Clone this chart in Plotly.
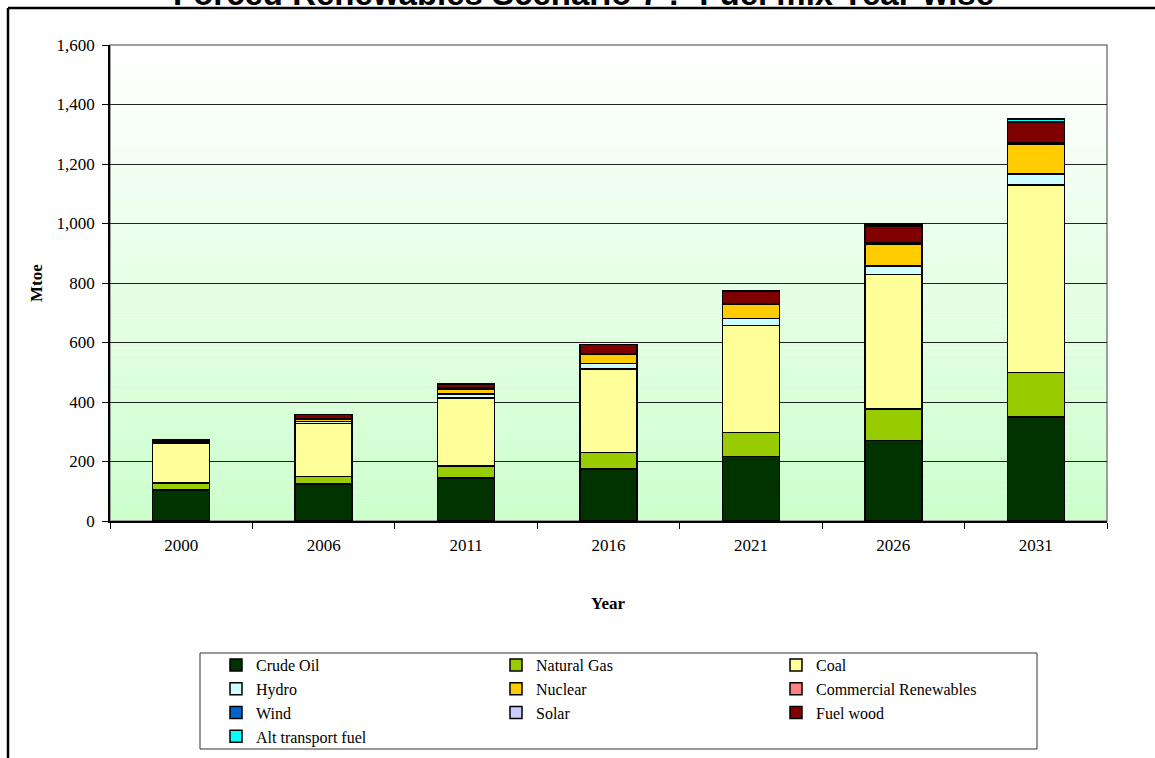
import plotly.graph_objects as go

years = ["2000", "2006", "2011", "2016", "2021", "2026", "2031"]
crude_oil = [105, 124, 145, 175, 216, 270, 350]
natural_gas = [23, 25, 40, 56, 81, 107, 150]
coal = [132, 179, 228, 280, 361, 451, 630]
hydro = [5, 6, 14, 18, 23, 30, 36]
nuclear = [2, 8, 17, 31, 46, 71, 99]
commercial_renewables = [0.5, 1, 1.5, 2, 2, 3, 4]
wind = [0.2, 0.3, 0.5, 1, 1, 1.5, 2]
solar = [0.1, 0.2, 0.3, 0.5, 1, 1, 2]
fuel_wood = [4, 14, 15, 29, 41, 57, 68]
alt_transport_fuel = [0, 0, 0, 0, 3, 7, 10]

y_ticks = [0, 200, 400, 600, 800, 1000, 1200, 1400, 1600]
y_tick_labels = ["0", "200", "400", "600", "800", "1,000", "1,200", "1,400", "1,600"]

series = [
    ("Crude Oil", crude_oil, "#003300"),
    ("Natural Gas", natural_gas, "#99CC00"),
    ("Coal", coal, "#FFFF99"),
    ("Hydro", hydro, "#CCFFFF"),
    ("Nuclear", nuclear, "#FFCC00"),
    ("Commercial Renewables", commercial_renewables, "#FF8080"),
    ("Wind", wind, "#0066CC"),
    ("Solar", solar, "#CCCCFF"),
    ("Fuel wood", fuel_wood, "#800000"),
    ("Alt transport fuel", alt_transport_fuel, "#00FFFF"),
]

W, H = 1155, 758
L, R, T, B = 110, 48, 45, 237
pw = W - L - R
ph = H - T - B


def px_x(p):
    return (p - L) / pw


def px_y(p):
    return (H - B - p) / ph


fig = go.Figure()
for name, vals, col in series:
    fig.add_trace(go.Bar(
        x=years, y=vals, name=name,
        marker=dict(color=col, line=dict(color="#000000", width=1.5)),
    ))

serif = "Liberation Serif"

shapes = []
# gradient plot background (white at top to light green at bottom)
n = 80
for i in range(n):
    f = i / (n - 1)
    r = int(round(255 + (204 - 255) * f))
    b = int(round(255 + (204 - 255) * f))
    shapes.append(dict(type="rect", xref="paper", yref="paper",
                       x0=0, x1=1, y0=1 - (i + 1) / n, y1=1 - i / n,
                       fillcolor=f"rgb({r},255,{b})", line=dict(width=0),
                       layer="below"))
# plot area border
shapes.append(dict(type="rect", xref="paper", yref="paper", x0=0, x1=1, y0=0, y1=1,
                   line=dict(color="#808080", width=1.5), layer="between"))
# outer chart frame (partly cropped)
shapes.append(dict(type="line", xref="paper", yref="paper",
                   x0=px_x(8), x1=px_x(8), y0=px_y(8), y1=px_y(790),
                   line=dict(color="#000000", width=2.5)))
shapes.append(dict(type="line", xref="paper", yref="paper",
                   x0=px_x(8), x1=px_x(1170), y0=px_y(8), y1=px_y(8),
                   line=dict(color="#000000", width=2.5)))
# legend box
shapes.append(dict(type="rect", xref="paper", yref="paper",
                   x0=px_x(200), x1=px_x(1037), y0=px_y(749), y1=px_y(653),
                   line=dict(color="#333333", width=1), fillcolor="#FFFFFF",
                   layer="below"))

annotations = [
    dict(text="<b>Forced Renewables Scenario 7 :- Fuel mix Year-wise</b>",
         xref="paper", yref="paper", x=px_x(583), y=px_y(14),
         xanchor="center", yanchor="bottom", showarrow=False,
         font=dict(family="Arial", size=33, color="#000000")),
    dict(text="<b>Year</b>", xref="paper", yref="paper", x=px_x(608), y=px_y(603),
         xanchor="center", yanchor="middle", showarrow=False,
         font=dict(family=serif, size=17, color="#000000")),
    dict(text="<b>Mtoe</b>", xref="paper", yref="paper", x=px_x(36), y=px_y(283),
         xanchor="center", yanchor="middle", showarrow=False, textangle=-90,
         font=dict(family=serif, size=17, color="#000000")),
]

fig.update_layout(
    width=W, height=H,
    margin=dict(l=L, r=R, t=T, b=B),
    paper_bgcolor="#FFFFFF",
    plot_bgcolor="rgba(0,0,0,0)",
    barmode="stack",
    bargap=0.6,
    shapes=shapes,
    annotations=annotations,
    showlegend=True,
    legend=dict(
        orientation="h", traceorder="normal",
        xref="paper", x=px_x(216), xanchor="left",
        yref="container", y=(H - 648) / H, yanchor="top",
        entrywidth=235, entrywidthmode="pixels",
        borderwidth=0, bgcolor="rgba(0,0,0,0)",
        font=dict(family=serif, size=16, color="#000000"),
    ),
    xaxis=dict(
        type="category", tickson="boundaries", ticks="outside", ticklen=6,
        tickcolor="#000000", showline=True, linecolor="#000000", linewidth=1.5,
        showgrid=False, ticklabelstandoff=8,
        tickfont=dict(family=serif, size=17, color="#000000"),
    ),
    yaxis=dict(
        range=[0, 1600], tickmode="array", tickvals=y_ticks, ticktext=y_tick_labels,
        ticks="outside", ticklen=6, tickcolor="#000000",
        showline=True, linecolor="#000000", linewidth=1.5,
        showgrid=True, gridcolor="#222222", gridwidth=1, zeroline=False,
        ticklabelstandoff=4,
        tickfont=dict(family=serif, size=17, color="#000000"),
    ),
)

fig.write_html("out.html")
